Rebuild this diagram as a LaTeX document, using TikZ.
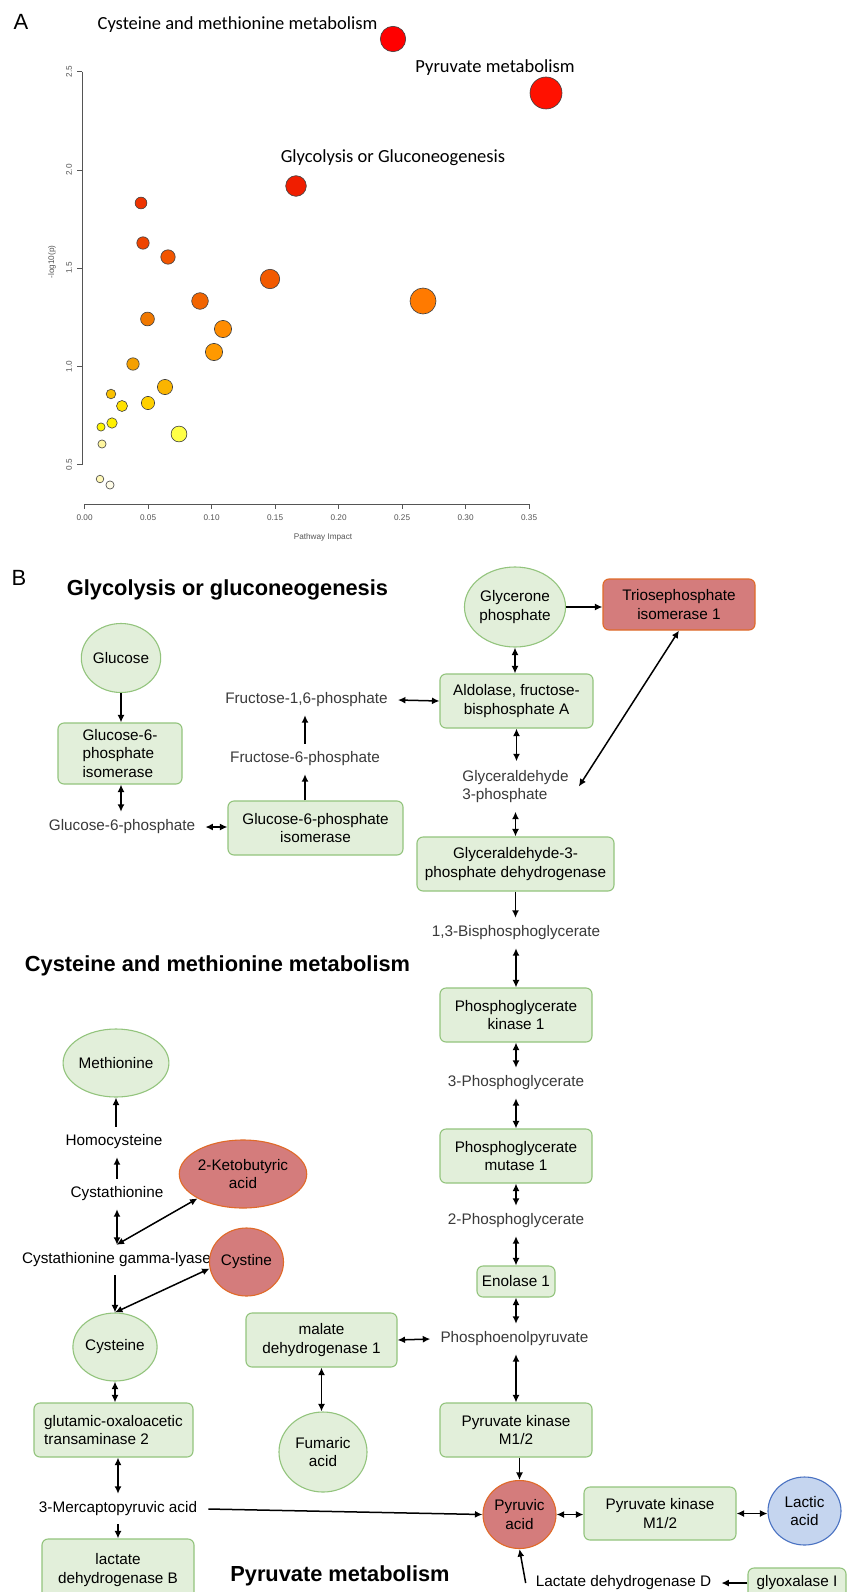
\documentclass[tikz,border=0pt]{standalone}
\usepackage{fontspec}
\setmainfont{Liberation Sans}
\newfontfamily\calib{Carlito}
\usetikzlibrary{arrows.meta,shapes.geometric}
\definecolor{gfill}{HTML}{E2EFDA}
\definecolor{gline}{HTML}{93C47D}
\definecolor{rfill}{HTML}{D47C7C}
\definecolor{rline}{HTML}{E06A28}
\definecolor{bfill}{HTML}{C5D5EF}
\definecolor{bline}{HTML}{4A72C2}
\definecolor{mtext}{HTML}{3A3A3A}
\definecolor{axgray}{HTML}{555555}
\begin{document}
\begin{tikzpicture}[x=1pt,y=-1pt,
  every node/.style={font=\fontsize{15.3}{18.5}\selectfont},
  gbox/.style={draw=gline, fill=gfill, line width=1.1pt, rounded corners=6pt, inner sep=0pt, align=center, text=black},
  rbox/.style={gbox, draw=rline, fill=rfill},
  gell/.style={ellipse, draw=gline, fill=gfill, line width=1.1pt, inner sep=0pt, align=center, text=black},
  rell/.style={gell, draw=rline, fill=rfill},
  bell/.style={gell, draw=bline, fill=bfill},
  met/.style={text=mtext, inner xsep=10pt, inner ysep=0pt, minimum height=30pt, align=center},
  arr/.style={-{Latex[length=7.5pt,width=7pt]}, line width=1.5pt},
  darr/.style={{Latex[length=7.5pt,width=7pt]}-{Latex[length=7.5pt,width=7pt]}, line width=1.5pt},
  title/.style={font=\bfseries\fontsize{21.8}{26}\selectfont, inner sep=0pt},
  panel/.style={font=\fontsize{22}{26}\selectfont, inner sep=0pt},
  plab/.style={font=\calib\fontsize{18.5}{22}\selectfont, inner sep=0pt},
  tick/.style={font=\fontsize{8.2}{10}\selectfont, text=axgray, inner sep=0pt},
  dot/.style={draw=black!75, line width=0.6pt}
]
\useasboundingbox (0,0) rectangle (849,1592);
\fill[white] (0,0) rectangle (849,1592);

% ---------------- Panel A ----------------
\node[panel] (lA) at (21,22) {A};
\draw[axgray, line width=0.6pt] (82,71.7) -- (82,464.5);
\foreach \v/\yy [count=\i] in {2.5/71.7, 2.0/169.9, 1.5/268.1, 1.0/366.3, 0.5/464.5}{
  \draw[axgray, line width=0.6pt] (82,\yy) -- (77,\yy);
  \node[tick, rotate=90] (yt\i) at (69,\yy) {\v};
}
\node[tick, rotate=90] (ylab) at (52,262) {-log10(p)};
\draw[axgray, line width=0.6pt] (84.6,504) -- (529,504);
\foreach \v [count=\i from 0] in {0.00,0.05,0.10,0.15,0.20,0.25,0.30,0.35}{
  \draw[axgray, line width=0.6pt] ({84.6+63.5*\i},504) -- ({84.6+63.5*\i},509);
  \node[tick] (xt\i) at ({84.6+63.5*\i},518) {\v};
}
\node[tick] (xlab) at (323,537) {Pathway Impact};

\draw[dot, fill={rgb,255:red,255;green,252;blue,232}] (110,485) circle (4.1);
\draw[dot, fill={rgb,255:red,255;green,248;blue,184}] (100,479) circle (3.8);
\draw[dot, fill={rgb,255:red,255;green,246;blue,160}] (102,444) circle (4.1);
\draw[dot, fill={rgb,255:red,255;green,255;blue,70}] (179,434) circle (7.9);
\draw[dot, fill={rgb,255:red,255;green,245;blue,0}] (101,427) circle (4.1);
\draw[dot, fill={rgb,255:red,255;green,240;blue,0}] (112,423) circle (5.2);
\draw[dot, fill={rgb,255:red,255;green,224;blue,0}] (122,406) circle (5.5);
\draw[dot, fill={rgb,255:red,255;green,208;blue,0}] (148,403) circle (6.6);
\draw[dot, fill={rgb,255:red,250;green,192;blue,0}] (111,394) circle (4.8);
\draw[dot, fill={rgb,255:red,250;green,180;blue,0}] (165,387) circle (7.6);
\draw[dot, fill={rgb,255:red,245;green,160;blue,0}] (133,364) circle (6.2);
\draw[dot, fill={rgb,255:red,255;green,153;blue,0}] (214,352) circle (8.6);
\draw[dot, fill={rgb,255:red,255;green,140;blue,0}] (223,329) circle (8.6);
\draw[dot, fill={rgb,255:red,240;green,120;blue,0}] (147.5,319) circle (6.9);
\draw[dot, fill={rgb,255:red,255;green,122;blue,0}] (423,301) circle (13);
\draw[dot, fill={rgb,255:red,242;green,100;blue,0}] (200,301) circle (8.3);
\draw[dot, fill={rgb,255:red,242;green,90;blue,0}] (270,279) circle (9.7);
\draw[dot, fill={rgb,255:red,242;green,85;blue,0}] (168,257) circle (7.2);
\draw[dot, fill={rgb,255:red,238;green,68;blue,0}] (143,243) circle (6.2);
\draw[dot, fill={rgb,255:red,238;green,51;blue,0}] (141,203) circle (5.9);
\draw[dot, fill={rgb,255:red,240;green,30;blue,0}] (296,186) circle (10.3);
\draw[dot, fill={rgb,255:red,255;green,17;blue,0}] (546,93) circle (16);
\draw[dot, fill={rgb,255:red,255;green,0;blue,0}] (393,39) circle (12.7);

\node[plab] (labcys) at (237.5,25) {Cysteine and methionine metabolism};
\node[plab] (labpyr) at (495,68) {Pyruvate metabolism};
\node[plab] (labgly) at (393,158) {Glycolysis or Gluconeogenesis};

% ---------------- Panel B ----------------
\node[panel] (lB) at (19,578) {B};
\node[title] (t1) at (227.5,590) {Glycolysis or gluconeogenesis};
\node[title] (t2) at (217.5,966) {Cysteine and methionine metabolism};
\node[title] (t3) at (340,1576) {Pyruvate metabolism};

% glycolysis left part
\node[gell, minimum width=73pt, minimum height=69pt] (glucose) at (121,658) {Glucose};
\node[gbox, align=left, minimum width=124pt, minimum height=61pt] (g6pi1) at (120,753.5) {Glucose-6-\\phosphate\\isomerase};
\node[met] (g6p) at (122,827) {Glucose-6-phosphate};
\node[gbox, minimum width=175pt, minimum height=54pt] (g6pi2) at (315.5,828) {Glucose-6-phosphate\\isomerase};
\node[met] (f6p) at (305,759) {Fructose-6-phosphate};
\node[met] (f16) at (306.5,700) {Fructose-1,6-phosphate};

% glycolysis main column
\node[gell, minimum width=88pt, minimum height=80pt] (glycerone) at (515,607) {Glycerone\\phosphate};
\node[rbox, minimum width=152pt, minimum height=51pt] (tpi) at (679,604.5) {Triosephosphate\\isomerase 1};
\node[gbox, minimum width=153pt, minimum height=54pt] (aldo) at (516.5,701) {Aldolase, fructose-\\bisphosphate A};
\node[met, align=left, minimum height=50pt] (g3p) at (515.5,786.5) {Glyceraldehyde\\3-phosphate};
\node[gbox, minimum width=197pt, minimum height=54pt] (gapdh) at (515.5,864) {Glyceraldehyde-3-\\phosphate dehydrogenase};
\node[met] (bpg) at (516,933) {1,3-Bisphosphoglycerate};
\node[gbox, minimum width=152pt, minimum height=54pt] (pgk) at (516,1015) {Phosphoglycerate\\kinase 1};
\node[met] (pg3) at (516,1083) {3-Phosphoglycerate};
\node[gbox, minimum width=152pt, minimum height=54pt] (pgm) at (516,1156) {Phosphoglycerate\\mutase 1};
\node[met] (pg2) at (516,1221) {2-Phosphoglycerate};
\node[gbox, minimum width=78pt, minimum height=31pt] (eno) at (516,1281.5) {Enolase 1};
\node[met] (pep) at (514.5,1339) {Phosphoenolpyruvate};
\node[gbox, minimum width=152pt, minimum height=54pt] (pk) at (516,1430) {Pyruvate kinase\\M1/2};
\node[rell, minimum width=73pt, minimum height=68pt] (pyr) at (519.5,1514.5) {Pyruvic\\acid};
\node[gbox, minimum width=152pt, minimum height=53pt] (pk2) at (660,1513.5) {Pyruvate kinase\\M1/2};
\node[bell, minimum width=73pt, minimum height=68pt] (lac) at (804.5,1511) {Lactic\\acid};
\node[met, text=black, inner xsep=10pt] (ldhd) at (623.5,1583) {Lactate dehydrogenase D};
\node[gbox, minimum width=98pt, minimum height=30pt] (glyox) at (797,1583) {glyoxalase I};

\node[gbox, minimum width=151pt, minimum height=54pt] (mdh) at (321.5,1340) {malate\\dehydrogenase 1};
\node[gell, minimum width=88pt, minimum height=80pt] (fum) at (323,1452) {Fumaric\\acid};

% cysteine part
\node[gell, minimum width=86pt, minimum height=68pt] (methi) at (116,1063) {Methionine};
\node[met, text=black] (homo) at (114,1142) {Homocysteine};
\node[met, text=black] (cysta) at (117,1194) {Cystathionine};
\node[rell, minimum width=104pt, minimum height=68pt] (keto) at (243,1174) {2-Ketobutyric\\acid};
\node[met, text=black, inner xsep=0pt] (cgl) at (116.5,1260) {Cystathionine gamma-lyase};
\node[rell, minimum width=74pt, minimum height=68pt] (cystine) at (246.5,1262) {Cystine};
\node[gell, minimum width=78pt, minimum height=68pt] (cys) at (115,1347) {Cysteine};
\node[gbox, align=left, minimum width=159pt, minimum height=54pt] (got) at (113.5,1430) {glutamic-oxaloacetic\\transaminase 2};
\node[met, text=black, inner xsep=11pt] (mp) at (118,1509) {3-Mercaptopyruvic acid};
\node[gbox, minimum width=152pt, minimum height=62pt] (ldhb) at (118,1570) {lactate\\dehydrogenase B};

% ---------------- connectors ----------------
\draw[arr] (glucose.south) -- (glucose.south |- g6pi1.north);
\draw[darr] (g6pi1.south -| glucose.south) -- (g6p.north -| glucose.south);
\draw[darr] (g6p.east) -- (g6pi2.west |- g6p.east);
\draw[arr] (f6p.south |- g6pi2.north) -- (f6p.south);
\draw[arr] (f6p.north) -- (f16.south -| f6p.north);
\draw[darr] (f16.east) -- (aldo.west);
\draw[arr] (glycerone.east) -- (tpi.west |- glycerone.east);
\draw[darr] (glycerone.south) -- (glycerone.south |- aldo.north);
\draw[darr] (aldo.south) -- (g3p.north -| aldo.south);
\draw[darr] (tpi.south) -- (g3p.east);
\draw[darr] (g3p.south -| gapdh.north) -- (gapdh.north);
\draw[arr] (gapdh.south) -- (bpg.north -| gapdh.south);
\draw[darr] (bpg.south) -- (pgk.north);
\draw[darr] (pgk.south) -- (pg3.north);
\draw[darr] (pg3.south) -- (pgm.north);
\draw[darr] (pgm.south) -- (pg2.north);
\draw[darr] (pg2.south) -- (eno.north);
\draw[darr] (eno.south) -- (pep.north -| eno.south);
\draw[darr] (pep.south -| pk.north) -- (pk.north);
\draw[darr] (mdh.east) -- (pep.west);
\draw[darr] (mdh.south) -- (mdh.south |- fum.north);
\draw[arr] (pk.south -| pyr.north) -- (pyr.north);
\draw[darr] (pyr.east) -- (pk2.west |- pyr.east);
\draw[darr] (pk2.east) -- (lac.west |- pk2.east);
\draw[arr] (ldhd.west) -- (pyr.south);
\draw[arr] (glyox.west) -- (ldhd.east);

\draw[arr] (methi.south |- homo.north) -- (methi.south);
\draw[arr] (cysta.north) -- (homo.south -| cysta.north);
\draw[darr] (cysta.south) -- (cysta.south |- cgl.north);
\draw[darr] (cgl.north) -- (keto.south west);
\draw[arr] (cgl.south -| cys.north) -- (cys.north);
\draw[darr] (cystine.190) -- (cys.north);
\draw[darr] (cys.south) -- (got.north -| cys.south);
\draw[darr] (mp.north |- got.south) -- (mp.north);
\draw[arr] (mp.east) -- (pyr.west);
\draw[arr] (mp.south) -- (ldhb.north);
\end{tikzpicture}
\end{document}
